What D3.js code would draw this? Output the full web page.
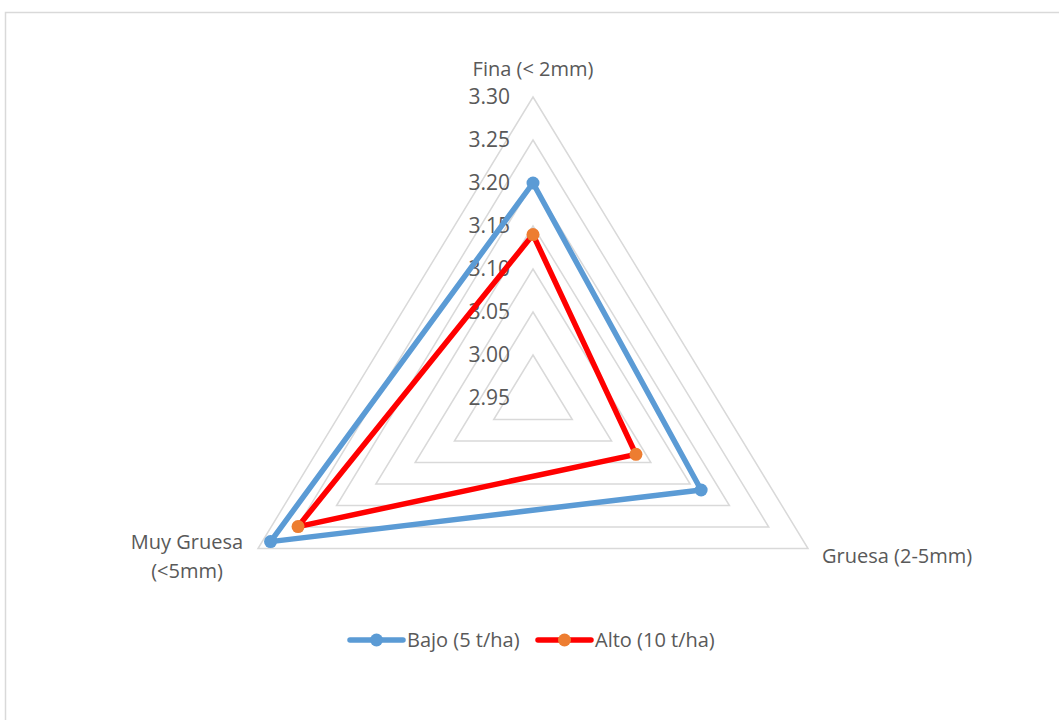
<!DOCTYPE html>
<html>
<head>
<meta charset="utf-8">
<script src="https://cdn.jsdelivr.net/npm/d3@7"></script>
<style>
  body { margin: 0; background: #fff; }
  text { font-family: "Open Sans", sans-serif; fill: #595959; }
</style>
</head>
<body>
<div id="chart"></div>
<script>
var categories = ["Fina (< 2mm)", "Gruesa (2-5mm)", "Muy Gruesa (<5mm)"];
var ticks = [2.95, 3.00, 3.05, 3.10, 3.15, 3.20, 3.25, 3.30];
var bajo = [3.20, 3.164, 3.284];
var alto = [3.14, 3.081, 3.249];
var seriesNames = ["Bajo (5 t/ha)", "Alto (10 t/ha)"];

function draw_radar() {
    var width = 1059, height = 720;
    var cx = 533, cy = 398;
    var stretch = 1.055; // picture is a little wider than tall

    var svg = d3.select("#chart")
        .append("svg")
        .attr("width", width)
        .attr("height", height);

    // chart border
    svg.append("rect")
        .attr("x", 5.5).attr("y", 12.5)
        .attr("width", 1100).attr("height", 800)
        .attr("fill", "none")
        .attr("stroke", "#d9d9d9")
        .attr("stroke-width", 1.5);

    var r = d3.scaleLinear()
        .domain([2.95, 3.30])
        .range([0, 301]);

    var angle = d3.scaleOrdinal()
        .domain([0, 1, 2])
        .range([-Math.PI / 2, Math.PI / 6, Math.PI * 5 / 6]);

    function px(i, v) { return cx + Math.cos(angle(i)) * r(v) * stretch; }
    function py(i, v) { return cy + Math.sin(angle(i)) * r(v); }

    var line = d3.line()
        .x(function(d) { return px(d.i, d.v); })
        .y(function(d) { return py(d.i, d.v); })
        .curve(d3.curveLinearClosed);

    // grid triangles
    svg.append("g")
        .selectAll("path")
        .data(ticks.slice(1))
        .enter()
        .append("path")
        .attr("d", function(t) { return line([0, 1, 2].map(function(i) { return { i: i, v: t }; })); })
        .attr("fill", "none")
        .attr("stroke", "#d9d9d9")
        .attr("stroke-width", 1.5);

    // tick labels
    svg.append("g")
        .selectAll("text")
        .data(ticks)
        .enter()
        .append("text")
        .attr("x", 510)
        .attr("y", function(t) { return cy - r(t); })
        .attr("dy", "0.35em")
        .attr("text-anchor", "end")
        .style("font-size", "21px")
        .text(function(t) { return d3.format(".2f")(t); });

    var color = d3.scaleOrdinal().domain(seriesNames).range(["#5b9bd5", "#ff0000"]);
    var markerColor = d3.scaleOrdinal().domain(seriesNames).range(["#5b9bd5", "#ed7d31"]);

    var dataReady = [
        { name: seriesNames[0], values: bajo.map(function(v, i) { return { i: i, v: v }; }) },
        { name: seriesNames[1], values: alto.map(function(v, i) { return { i: i, v: v }; }) }
    ];

    svg.selectAll("myLines")
        .data(dataReady)
        .enter()
        .append("path")
        .attr("d", function(d) { return line(d.values); })
        .attr("stroke", function(d) { return color(d.name); })
        .attr("stroke-width", 5.5)
        .attr("stroke-linejoin", "round")
        .attr("fill", "none");

    svg.selectAll("myDots")
        .data(dataReady)
        .enter()
        .append("g")
        .style("fill", function(d) { return markerColor(d.name); })
        .selectAll("circle")
        .data(function(d) { return d.values; })
        .enter()
        .append("circle")
        .attr("cx", function(d) { return px(d.i, d.v); })
        .attr("cy", function(d) { return py(d.i, d.v); })
        .attr("r", 6.5);

    // category labels
    var fs = "20px";
    svg.append("text")
        .attr("x", cx).attr("y", 69).attr("dy", "0.35em")
        .attr("text-anchor", "middle")
        .style("font-size", fs)
        .text(categories[0]);
    svg.append("text")
        .attr("x", 822).attr("y", 556).attr("dy", "0.35em")
        .style("font-size", fs)
        .text(categories[1]);
    var muy = categories[2].split(" (");
    svg.append("text")
        .attr("x", 187).attr("y", 542).attr("dy", "0.35em")
        .attr("text-anchor", "middle")
        .style("font-size", fs)
        .text(muy[0]);
    svg.append("text")
        .attr("x", 187).attr("y", 571).attr("dy", "0.35em")
        .attr("text-anchor", "middle")
        .style("font-size", fs)
        .text("(" + muy[1]);

    // legend
    var legX = d3.scaleOrdinal().domain(seriesNames).range([350, 538]);
    var leg = svg.selectAll("myLegend")
        .data(seriesNames)
        .enter()
        .append("g")
        .attr("transform", function(d) { return "translate(" + legX(d) + ",640)"; });
    leg.append("line")
        .attr("x1", 0).attr("x2", 53)
        .attr("stroke", function(d) { return color(d); })
        .attr("stroke-width", 5.5)
        .attr("stroke-linecap", "round");
    leg.append("circle")
        .attr("cx", 26.5).attr("r", 6.5)
        .attr("fill", function(d) { return markerColor(d); });
    leg.append("text")
        .attr("x", 57).attr("dy", "0.35em")
        .style("font-size", fs)
        .text(function(d) { return d; });
}

draw_radar();
</script>
</body>
</html>
